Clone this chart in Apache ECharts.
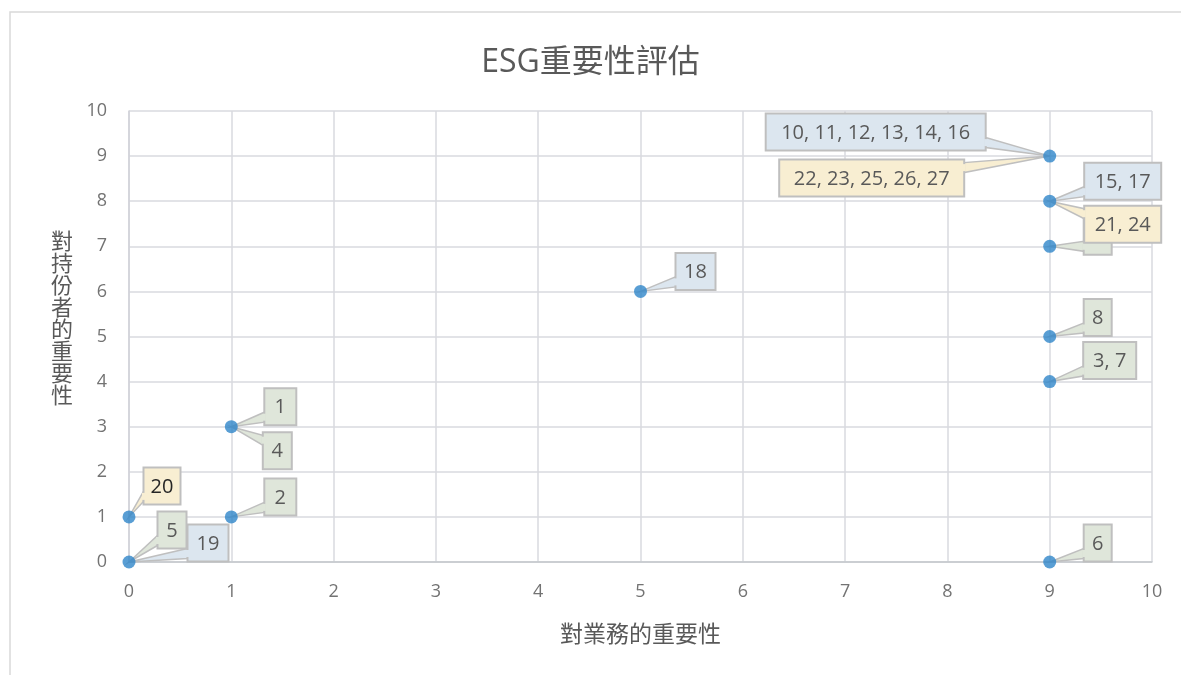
<!DOCTYPE html>
<html><head><meta charset="utf-8">
<script src="https://cdn.jsdelivr.net/npm/echarts@6/dist/echarts.min.js"></script>
<style>html,body{margin:0;padding:0;background:#fff}#c{width:1181px;height:675px}</style>
</head><body><div id="c"></div>
<script>
// ---------- DATA ----------
const chartTitle = 'ESG重要性評估';
const xAxisName = '對業務的重要性';
const yAxisName = '對持份者的重要性';
const xTickLabels = ['0','1','2','3','4','5','6','7','8','9','10'];
const yTickLabels = ['0','1','2','3','4','5','6','7','8','9','10'];

// plotted points
const pointsX = [9, 9, 9, 5, 9, 9, 1, 0, 1, 0, 9];
const pointsY = [9, 8, 7, 6, 5, 4, 3, 1, 1, 0, 0];

// callout labels: text, which point they belong to, and label group (0 blue, 1 green, 2 yellow)
const calloutText  = ['10, 11, 12, 13, 14, 16', '22, 23, 25, 26, 27', '9', '15, 17', '21, 24', '18', '8', '3, 7', '1', '4', '20', '2', '19', '5', '6'];
const calloutPoint = [0, 0, 2, 1, 1, 3, 4, 5, 6, 6, 7, 8, 9, 9, 10];
const calloutGroup = [0, 2, 1, 0, 2, 0, 1, 1, 1, 1, 2, 1, 0, 1, 1];

// ---------- LAYOUT / STYLE ----------
const groupFill = ['#dce6ef', '#dfe6da', '#f8eed2'];
const calloutLayout = [
  {dx:-174, dy:-24, w:220},
  {dx:-178, dy:22,  w:185},
  {dx:48,  dy:-10, w:28},
  {dx:73,  dy:-20, w:77},
  {dx:73,  dy:23,  w:77},
  {dx:55,  dy:-20, w:40},
  {dx:48,  dy:-19, w:28},
  {dx:60,  dy:-21, w:53},
  {dx:49,  dy:-20, w:32},
  {dx:46,  dy:24,  w:29},
  {dx:33,  dy:-31, w:37, color:'#262626'},
  {dx:49,  dy:-20, w:32},
  {dx:79,  dy:-19, w:41},
  {dx:43,  dy:-32, w:29},
  {dx:48,  dy:-19, w:28}
];
const FONT = '"Open Sans","Noto Sans CJK TC",sans-serif';
const TXT = '#595959';
const TICK = '#737373';

const chart = echarts.init(document.getElementById('c'), null, {renderer:'canvas'});

const calloutData = calloutPoint.map(k => [pointsX[k], pointsY[k]]);

function renderCallout(params, api) {
  const i = params.dataIndex;
  const p = api.coord([api.value(0), api.value(1)]);
  const L = calloutLayout[i];
  const fill = groupFill[calloutGroup[i]];
  const h = 37, w = L.w;
  const cx = p[0] + L.dx, cy = p[1] + L.dy;
  const x0 = cx - w / 2, y0 = cy - h / 2;
  const ex = cx > p[0] ? x0 : x0 + w;
  const by = Math.min(Math.max(p[1], y0 + 8), y0 + h - 8);
  const half = 5;
  return {
    type: 'group',
    children: [
      {type:'polygon', shape:{points:[[p[0],p[1]],[ex,by-half],[ex,by+half]]},
        style:{fill:fill, stroke:'#bfbfbf', lineWidth:1.5}},
      {type:'rect', shape:{x:x0, y:y0, width:w, height:h},
        style:{fill:fill, stroke:'#bfbfbf', lineWidth:2}},
      {type:'line', shape:{x1:ex, y1:by-half+1.5, x2:ex, y2:by+half-1.5},
        style:{stroke:fill, lineWidth:3}},
      {type:'text', style:{text:calloutText[i], x:cx, y:cy+1, align:'center', verticalAlign:'middle',
        font:'20px ' + FONT, fill: L.color || TXT}}
    ]
  };
}

const option = {
  backgroundColor: '#ffffff',
  animation: false,
  title: {
    text: chartTitle, left: 'center', top: 42,
    textStyle: {color: TXT, fontSize: 32, fontWeight: 'normal', fontFamily: FONT}
  },
  graphic: [
    {type:'rect', shape:{x:10, y:12, width:1300, height:800}, style:{fill:'none', stroke:'#d9d9d9', lineWidth:1.5}, z:-1},
    {type:'text', x:62, y:320, style:{text: yAxisName.split('').join('\n'), align:'center', verticalAlign:'middle',
      font:'22px ' + FONT, lineHeight:22, fill:TXT}}
  ],
  grid: {left:129, right:29, top:111, bottom:113},
  xAxis: {
    type:'value', min:0, max:10, interval:1,
    name: xAxisName, nameLocation:'middle', nameGap:62,
    nameTextStyle:{color:TXT, fontSize:23, fontFamily:FONT},
    axisLine:{show:true, lineStyle:{color:'#c4c7cc', width:1.5}},
    axisTick:{show:false},
    axisLabel:{color:TICK, fontSize:18, fontFamily:FONT, margin:21, formatter:(v)=>xTickLabels[Math.round(v)]},
    splitLine:{show:true, lineStyle:{color:'#d9dadf', width:1.5}}
  },
  yAxis: {
    type:'value', min:0, max:10, interval:1,
    axisLine:{show:true, lineStyle:{color:'#d0d2d8', width:1.5}},
    axisTick:{show:false},
    axisLabel:{color:TICK, fontSize:18, fontFamily:FONT, margin:22, formatter:(v)=>yTickLabels[Math.round(v)]},
    splitLine:{show:true, lineStyle:{color:'#d9dadf', width:1.5}}
  },
  series: [
    {
      type:'custom', data: calloutData, encode:{x:0, y:1},
      renderItem: renderCallout, clip:false, z:2, silent:true
    },
    {
      type:'scatter', data: pointsX.map((x, k) => [x, pointsY[k]]),
      symbolSize:13, itemStyle:{color:'#2f86c9'}, z:3
    }
  ]
};
chart.setOption(option);
</script>
</body></html>
